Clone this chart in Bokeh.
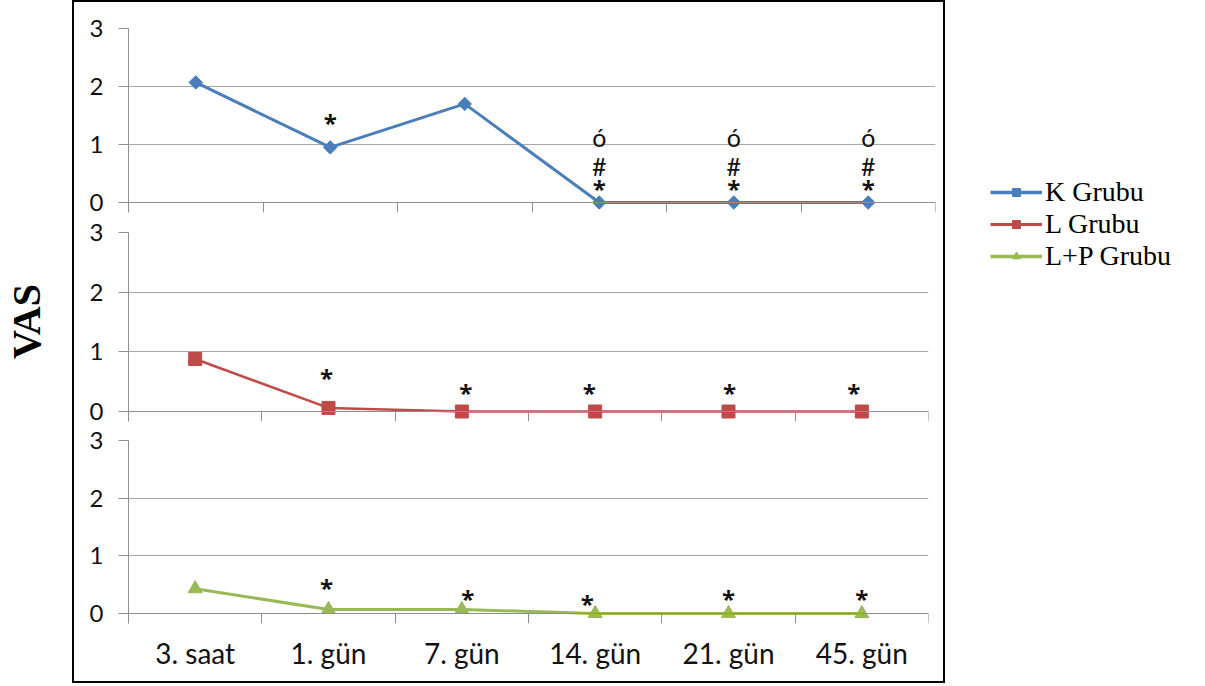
import math
from bokeh.plotting import figure
from bokeh.models import (Range1d, FixedTicker, ColumnDataSource, Legend, LegendItem,
                          Label, LinearAxis)
from bokeh.layouts import row, column
from bokeh.embed import file_html
from bokeh.resources import INLINE

# ---------------- data ----------------
categories = ["3. saat", "1. gün", "7. gün", "14. gün", "21. gün", "45. gün"]
k_grubu = [2.07, 0.95, 1.70, 0.0, 0.0, 0.0]
l_grubu = [0.88, 0.06, 0.0, 0.0, 0.0, 0.0]
lp_grubu = [0.43, 0.07, 0.07, 0.0, 0.0, 0.0]
series_names = ["K Grubu", "L Grubu", "L+P Grubu"]
y_ticks = [0, 1, 2, 3]

# significance symbols: (category index, symbol)
k_marks = [(1, "*"), (3, "*"), (3, "#"), (3, "ó"), (4, "*"), (4, "#"), (4, "ó"),
           (5, "*"), (5, "#"), (5, "ó")]
l_marks = [(1, "*"), (2, "*"), (3, "*"), (4, "*"), (5, "*")]
lp_marks = [(1, "*"), (2, "*"), (3, "*"), (4, "*"), (5, "*")]

# ---------------- styling ----------------
BLUE = "#4A7EBB"
RED = "#BE4B48"
GREEN = "#98B954"
GRID = "#A8A8A8"
AXIS = "#8E8E8E"
TICK_FONT = "Lato"

x_centers = [i + 0.5 for i in range(len(categories))]
boundaries = list(range(len(categories) + 1))


def make_panel(vals, color, marker, msize, angle, lw, marks, offsets,
               unit_px, mbt, mbb, frame_w, mbr, show_labels):
    ext = 10.0
    fh = int(round(3 * unit_px + ext))
    p = figure(frame_width=frame_w, frame_height=fh,
               x_range=Range1d(0, len(categories)),
               y_range=Range1d(-ext / unit_px, 3),
               output_backend="svg", toolbar_location=None, title=None,
               min_border_left=54, min_border_right=mbr,
               min_border_top=mbt, min_border_bottom=mbb)
    p.outline_line_color = None
    p.background_fill_color = "white"
    p.border_fill_color = "white"

    # x axis at y=0: category boundaries as minor ticks
    xa = p.xaxis[0]
    xa.ticker = FixedTicker(ticks=x_centers, minor_ticks=boundaries)
    xa.fixed_location = 0
    xa.major_tick_in = 0
    xa.major_tick_out = 0
    xa.minor_tick_in = 0
    xa.minor_tick_out = 10
    xa.minor_tick_line_color = AXIS
    xa.axis_line_color = AXIS
    xa.major_label_text_color = None

    if show_labels:
        la = LinearAxis(ticker=FixedTicker(ticks=x_centers, minor_ticks=[]))
        la.major_label_overrides = {c: lab for c, lab in zip(x_centers, categories)}
        la.axis_line_color = None
        la.major_tick_line_color = None
        la.minor_tick_line_color = None
        la.major_tick_in = 0
        la.major_tick_out = 0
        la.major_label_text_font = TICK_FONT
        la.major_label_text_font_size = "28px"
        la.major_label_text_color = "#111111"
        la.major_label_standoff = 12
        p.add_layout(la, "below")

    ya = p.yaxis[0]
    ya.ticker = FixedTicker(ticks=y_ticks, minor_ticks=[])
    ya.major_tick_in = 0
    ya.major_tick_out = 10
    ya.major_tick_line_color = AXIS
    ya.axis_line_color = AXIS
    ya.major_label_text_font = TICK_FONT
    ya.major_label_text_font_size = "24px"
    ya.major_label_text_color = "#111111"
    ya.major_label_standoff = 15

    p.xgrid.visible = False
    p.ygrid.ticker = FixedTicker(ticks=y_ticks, minor_ticks=[])
    p.ygrid.grid_line_color = GRID
    p.ygrid.grid_line_width = 1

    p.line(x_centers, vals, line_color=color, line_width=lw)
    p.scatter(x_centers, vals, marker=marker, size=msize, angle=angle,
              fill_color=color, line_color=color)

    star = [s == "*" for i, s in marks]
    src = ColumnDataSource(dict(
        x=[x_centers[i] for i, s in marks],
        y=[vals[i] for i, s in marks],
        t=[s for i, s in marks],
        dx=[o[0] for o in offsets],
        dy=[o[1] for o in offsets],
        st=["bold" if b else "normal" for b in star],
        fnt=["Open Sans" if b else TICK_FONT for b in star],
        fs=["24px" if b else "25px" for b in star],
    ))
    p.text(x="x", y="y", text="t", x_offset="dx", y_offset="dy", source=src,
           text_align="center", text_baseline="middle",
           text_font="fnt", text_font_style="st",
           text_font_size="fs", text_color="#111111")
    return p


k_off = [(0, -25), (0, -14), (0, -37), (0, -66), (0, -14), (0, -37), (0, -66),
         (0, -14), (0, -37), (0, -66)]
l_off = [(-2, -30), (4, -19), (-6, -19), (1, -19), (-8, -19)]
lp_off = [(-2, -22), (6, -11), (-8, -10), (0, -15), (0, -15)]

p1 = make_panel(k_grubu, BLUE, "square", 9.5, math.pi / 4, 3, k_marks, k_off,
                58.0, 26, 5, 807, 8, False)
p2 = make_panel(l_grubu, RED, "square", 13, 0, 2.5, l_marks, l_off,
                59.67, 15, 4, 800, 15, False)
p3 = make_panel(lp_grubu, GREEN, "triangle", 14, 0, 3, lp_marks, lp_off,
                57.67, 15, 58, 800, 15, True)

box = column(p1, p2, p3, styles={"border": "2px solid black"})

H = 683
# VAS label
pv = figure(frame_width=72, frame_height=H, x_range=Range1d(0, 1), y_range=Range1d(0, 1),
            output_backend="svg", toolbar_location=None, min_border=0)
pv.axis.visible = False
pv.grid.visible = False
pv.outline_line_color = None
pv.add_layout(Label(x=26, y=H - 321, x_units="screen", y_units="screen", text="VAS",
                    angle=math.pi / 2, text_align="center", text_baseline="middle",
                    text_font="Liberation Serif", text_font_style="bold",
                    text_font_size="40px", text_color="black"))

# legend panel
pl = figure(frame_width=252, frame_height=H, x_range=Range1d(0, 1), y_range=Range1d(0, 1),
            output_backend="svg", toolbar_location=None, min_border=0)
pl.axis.visible = False
pl.grid.visible = False
pl.outline_line_color = None
items = []
for name, color, marker, msize, angle, lw in [
        (series_names[0], BLUE, "square", 12, math.pi / 4, 3.5),
        (series_names[1], RED, "square", 15, 0, 3),
        (series_names[2], GREEN, "triangle", 16, 0, 3.5)]:
    r1 = pl.line([-5, -4], [-5, -4], line_color=color, line_width=lw)
    r2 = pl.scatter([-5], [-5], marker=marker, size=msize, angle=angle,
                    fill_color=color, line_color=color)
    items.append(LegendItem(label=name, renderers=[r1, r2]))
leg = Legend(items=items, location=(45, 411), padding=0, margin=0, spacing=0,
             glyph_width=52, glyph_height=20, label_standoff=3,
             label_text_font="Liberation Serif", label_text_font_size="28px",
             label_text_color="black", border_line_color=None,
             background_fill_alpha=0)
pl.add_layout(leg, "center")

layout = row(pv, box, pl)
open("out.html", "w").write(file_html(layout, INLINE))
